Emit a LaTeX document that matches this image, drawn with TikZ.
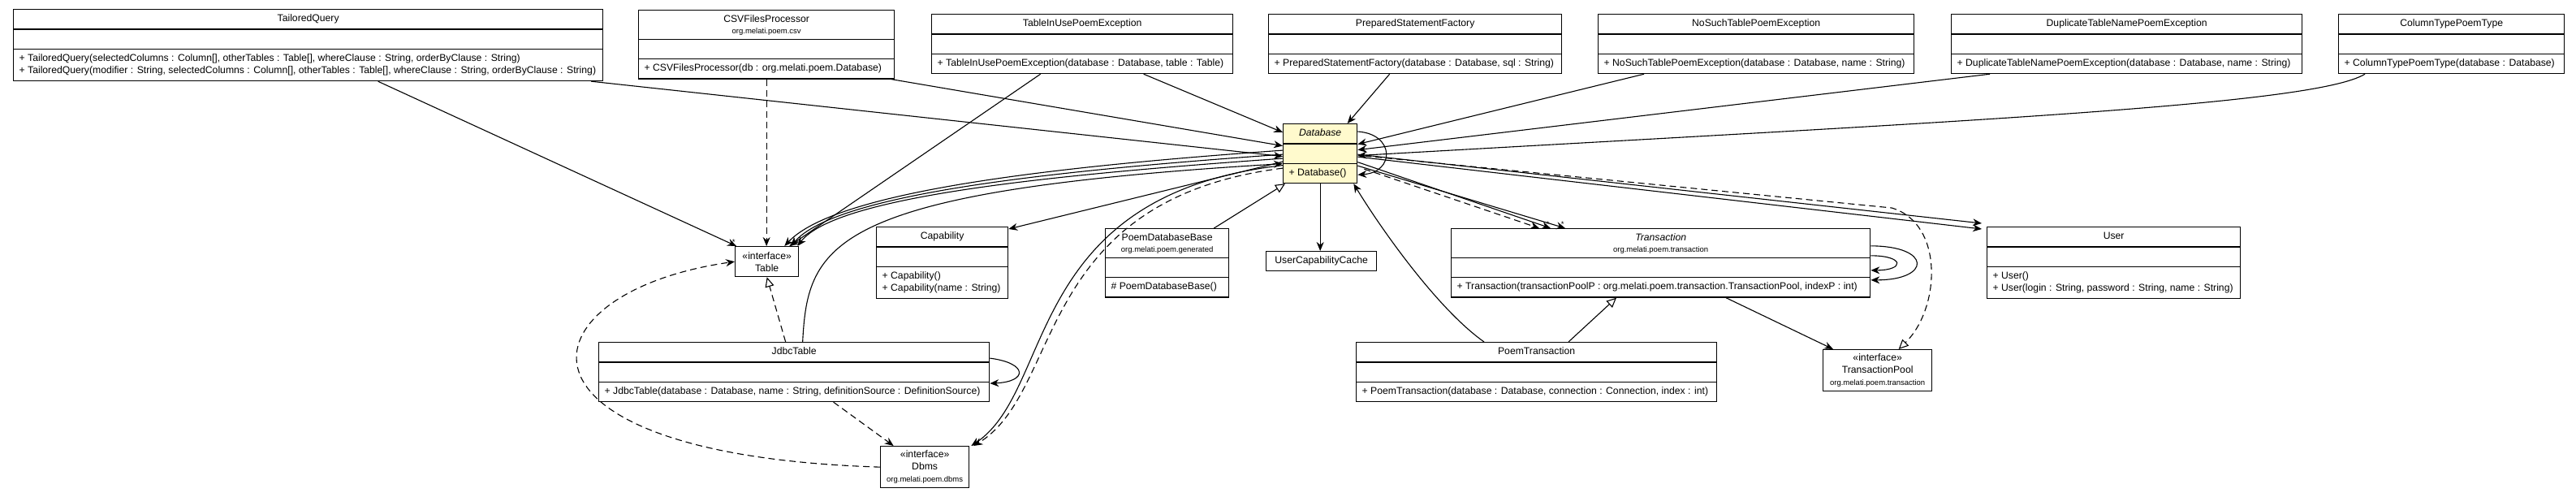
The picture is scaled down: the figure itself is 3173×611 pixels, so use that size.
\documentclass[tikz,border=0pt]{standalone}
\usepackage{fontspec}
\setmainfont{Liberation Sans}
\usetikzlibrary{positioning,arrows.meta,calc,shapes.multipart}
\definecolor{dbfill}{RGB}{255,250,205}
\newcommand{\fsmain}{\fontsize{12.2}{15}\selectfont}
\newcommand{\fspkg}{\fontsize{9.5}{11}\selectfont}
\newcommand{\noattr}{\hspace*{1pt}\strut}
\tikzset{
  umlclass/.style={draw, line width=1.3pt, rectangle split, rectangle split parts=3,
    rectangle split part align={center,left,left}, rectangle split empty part height=11pt,
    rectangle split empty part depth=4pt, anchor=north west, inner xsep=7pt, inner ysep=4pt,
    align=left, font=\fsmain, fill=white},
  pkgclass/.style={umlclass, align=center},
  iface/.style={draw, line width=1.3pt, anchor=north west, align=center, inner sep=3pt, font=\fsmain, fill=white},
  assoc/.style={line width=1.1pt, -{Stealth[length=11pt,width=9pt]}},
  dep/.style={assoc, dash pattern=on 8pt off 5pt},
  gen/.style={line width=1.1pt, -{Triangle[open,length=12pt,width=11pt,fill=white]}},
  realize/.style={gen, dash pattern=on 8pt off 5pt},
  mult/.style={font=\fspkg, inner sep=1pt}
}
\begin{document}
\begin{tikzpicture}[x=1pt,y=-1pt]
  \useasboundingbox (0,0) rectangle (3173,611);
  % top row
  \node[umlclass, minimum width=726pt] (tq) at (16,11) {\strut TailoredQuery\nodepart{two}\noattr\nodepart{three}
    \strut + TailoredQuery(selectedColumns : Column[], otherTables : Table[], whereClause : String, orderByClause : String)\\
    \strut + TailoredQuery(modifier : String, selectedColumns : Column[], otherTables : Table[], whereClause : String, orderByClause : String)};
  \node[pkgclass, minimum width=315pt] (csv) at (786,12) {\strut CSVFilesProcessor\\[-1pt]{\fspkg org.melati.poem.csv}\nodepart{two}\noattr\nodepart{three}
    \strut + CSVFilesProcessor(db : org.melati.poem.Database)};
  \node[umlclass, minimum width=371pt] (tiu) at (1147,17) {\strut TableInUsePoemException\nodepart{two}\noattr\nodepart{three}
    \strut + TableInUsePoemException(database : Database, table : Table)};
  \node[umlclass, minimum width=361pt] (psf) at (1562,17) {\strut PreparedStatementFactory\nodepart{two}\noattr\nodepart{three}
    \strut + PreparedStatementFactory(database : Database, sql : String)};
  \node[umlclass, minimum width=389pt] (nst) at (1968,17) {\strut NoSuchTablePoemException\nodepart{two}\noattr\nodepart{three}
    \strut + NoSuchTablePoemException(database : Database, name : String)};
  \node[umlclass, minimum width=432pt] (dup) at (2403,17) {\strut DuplicateTableNamePoemException\nodepart{two}\noattr\nodepart{three}
    \strut + DuplicateTableNamePoemException(database : Database, name : String)};
  \node[umlclass, minimum width=278pt] (ctp) at (2880,17) {\strut ColumnTypePoemType\nodepart{two}\noattr\nodepart{three}
    \strut + ColumnTypePoemType(database : Database)};
  % middle
  \node[umlclass, fill=dbfill, minimum width=91pt] (db) at (1580,152) {\strut\textit{Database}\nodepart{two}\noattr\nodepart{three}
    \strut + Database()};
  \node[iface, minimum width=78pt, minimum height=37pt] (tbl) at (905,303) {«interface»\\Table};
  \node[umlclass, minimum width=162pt] (cap) at (1079,279) {\strut Capability\nodepart{two}\noattr\nodepart{three}
    \strut + Capability()\\\strut + Capability(name : String)};
  \node[pkgclass, minimum width=152pt] (pdb) at (1361,281) {\strut PoemDatabaseBase\\[-1pt]{\fspkg org.melati.poem.generated}\nodepart{two}\noattr\nodepart{three}
    \strut \# PoemDatabaseBase()};
  \node[iface, minimum width=136pt, minimum height=24pt] (ucc) at (1559,309) {UserCapabilityCache};
  \node[pkgclass, minimum width=516pt] (tr) at (1787,281) {\strut\textit{Transaction}\\[-1pt]{\fspkg org.melati.poem.transaction}\nodepart{two}\noattr\nodepart{three}
    \strut + Transaction(transactionPoolP : org.melati.poem.transaction.TransactionPool, indexP : int)};
  \node[umlclass, minimum width=312pt] (user) at (2447,279) {\strut User\nodepart{two}\noattr\nodepart{three}
    \strut + User()\\\strut + User(login : String, password : String, name : String)};
  % bottom
  \node[umlclass, minimum width=481pt] (jt) at (737,421) {\strut JdbcTable\nodepart{two}\noattr\nodepart{three}
    \strut + JdbcTable(database : Database, name : String, definitionSource : DefinitionSource)};
  \node[umlclass, minimum width=444pt] (pt) at (1670,421) {\strut PoemTransaction\nodepart{two}\noattr\nodepart{three}
    \strut + PoemTransaction(database : Database, connection : Connection, index : int)};
  \node[iface, minimum width=134pt, minimum height=51pt] (tp) at (2245,430) {«interface»\\TransactionPool\\{\fspkg org.melati.poem.transaction}};
  \node[iface, minimum width=109pt, minimum height=51pt] (dbms) at (1084,549) {«interface»\\Dbms\\{\fspkg org.melati.poem.dbms}};
  \coordinate (knee) at (2330,256);

  % into Database
  \draw[assoc] ($(tq.south east)+(-15,0)$) -- ($(db.west)+(0,3.5)$);
  \draw[assoc] ($(csv.south east)+(-4,0)$) -- ($(db.west)+(0,-9.5)$);
  \draw[assoc] ($(tiu.south)+(75.5,0)$) -- ($(db.north west)+(0,11)$);
  \draw[assoc] ($(psf.south)+(-31.5,0)$) -- ($(db.north)+(33.5,0)$);
  \draw[assoc] ($(nst.south west)+(57,0)$) -- ($(db.east)+(0,-11.5)$);
  \draw[assoc] ($(dup.south west)+(48,0)$) -- ($(db.east)+(0,-4.5)$);
  \draw[assoc] ($(ctp.south west)+(33,0)$) .. controls (2850,130) and (2400,150) .. ($(db.east)+(0,2.5)$);
  \draw[assoc] ($(db.north east)+(0,10)$) .. controls ($(db.north east)+(46,13)$) and ($(db.south east)+(46,-14)$) .. ($(db.south east)+(0,-11)$);
  \draw[assoc] ($(jt.north)+(10.5,0)$) .. controls (995,300) and (1020,235) .. ($(db.west)+(0,12.5)$);
  \draw[assoc] ($(pt.north west)+(158,0)$) .. controls (1770,380) and (1700,280) .. ($(db.south east)+(-5,0)$);
  \draw[gen] ($(pdb.north east)+(-19,0)$) -- ($(db.south west)+(3,0)$);

  % out of Database
  \draw[assoc] ($(db.west)+(0,10)$) -- ($(cap.north east)+(0,3)$);
  \draw[assoc] (db.south) -- (db.south |- ucc.north);
  \foreach \k in {0,1,2}
    \draw[assoc] ($(db.west)+(0,-4+5*\k)$) .. controls (1300,{205+5*\k}) and (1030,{235+3*\k}) .. ($(tbl.north east)+(-18+8*\k,0)$);
  \draw[assoc] ($(db.west)+(0,14.5)$) .. controls (1260,240) and (1300,480) .. ($(dbms.north east)+(2,0)$);
  \draw[dep] ($(db.west)+(0,18)$) .. controls (1272,246) and (1310,482) .. ($(dbms.north east)+(5,0)$);
  \draw[dep] ($(db.east)+(8,19)$) -- ($(tr.north west)+(109,0)$);
  \draw[assoc] ($(db.east)+(0,10.5)$) -- ($(tr.north west)+(123,0)$) node[mult, at end, above left]{*};
  \draw[assoc] ($(db.east)+(0,15)$) -- ($(tr.north west)+(141,0)$) node[mult, at end, above left]{*};
  \draw[assoc] ($(db.east)+(0,1)$) -- ($(user.north west)+(-6,-4)$);
  \draw[assoc] ($(db.east)+(0,4)$) -- ($(user.north west)+(-6,3)$);
  \draw[realize] ($(db.east)+(9,3)$) -- (knee) .. controls (2395,275) and (2390,380) .. ($(tp.north)+(26,0)$);

  % Table
  \draw[assoc] ($(tq.south)+(86,0)$) -- ($(tbl.north west)+(2,0)$) node[mult, at end, above left]{*};
  \draw[dep] (csv.south) -- (csv.south |- tbl.north);
  \draw[assoc] ($(tiu.south)+(-51.5,0)$) -- ($(tbl.north east)+(-12,0)$);
  \draw[realize] ($(jt.north)+(-10.5,0)$) -- (tbl.south);
  \draw[dep] (dbms.west) .. controls (600,560) and (640,360) .. (tbl.west);

  % JdbcTable, Transaction
  \draw[assoc] ($(jt.east)+(0,-17)$) .. controls ($(jt.east)+(47,-11)$) and ($(jt.east)+(47,12)$) .. ($(jt.east)+(0,14)$);
  \draw[dep] ($(jt.south)+(48.5,0)$) -- ($(dbms.north)+(-38.5,0)$);
  \draw[assoc] ($(tr.east)+(0,-21)$) .. controls ($(tr.east)+(75,-21)$) and ($(tr.east)+(75,21)$) .. ($(tr.east)+(0,21)$);
  \draw[assoc] ($(tr.east)+(0,-9)$) .. controls ($(tr.east)+(42,-9)$) and ($(tr.east)+(42,9)$) .. ($(tr.east)+(0,9)$);
  \draw[gen] ($(pt.north west)+(262,0)$) -- ($(tr.south west)+(204,0)$);
  \draw[assoc] ($(tr.south west)+(339,0)$) -- ($(tp.north west)+(13,0)$);
\end{tikzpicture}
\end{document}
